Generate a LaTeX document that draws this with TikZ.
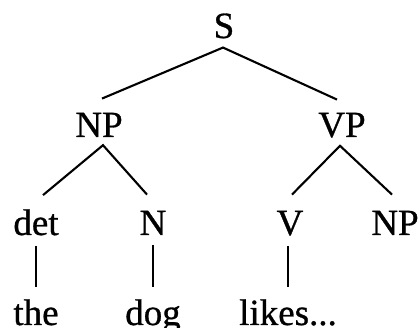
\documentclass[tikz,border=0pt]{standalone}
\usepackage{fontspec}
\setmainfont[FakeBold=0.8]{Liberation Serif}
\usetikzlibrary{calc}
\begin{document}
\begin{tikzpicture}[x=1pt,y=-1pt,
  lbl/.style={anchor=base,inner sep=0pt,font=\fontsize{37}{40}\selectfont},
  edge/.style={line width=2.1pt,line cap=butt}]
\useasboundingbox[fill=white] (0,0) rectangle (420,328);
% nodes
\node[lbl] (S)   at (224,38)  {S};
\node[lbl] (NPa) at (99,137)  {NP};
\node[lbl] (VP)  at (342,137) {VP};
\node[lbl] (det) at (36,235)  {det};
\node[lbl] (N)   at (153,235) {N};
\node[lbl] (V)   at (290,235) {V};
\node[lbl] (NPb) at (395,235) {NP};
\node[lbl] (the) at (36,325)  {the};
\node[lbl] (dog) at (153,325) {dog};
\node[lbl] (likes) at (288,325) {likes...};
% connectors
\draw[edge] ($(NPa.north)+(3,-14)$) -- ($(S.south)+(-1,9)$) -- ($(VP.north)+(-5,-13)$);
\draw[edge] ($(det.north)+(7,-14)$) -- ($(NPa.south)+(4,8)$) -- ($(N.north)+(-6,-16)$);
\draw[edge] ($(V.north)+(2,-16)$) -- ($(VP.south)+(-2,8)$) -- ($(NPb.north)+(-3,-16)$);
\draw[edge] ($(det.south)+(0,10)$) -- ($(the.north)+(0,-12)$);
\draw[edge] ($(N.south)+(0,10)$) -- ($(dog.north)+(0,-12)$);
\draw[edge] ($(V.south)+(-2,10)$) -- ($(likes.north)+(0,-12)$);
\end{tikzpicture}
\end{document}
